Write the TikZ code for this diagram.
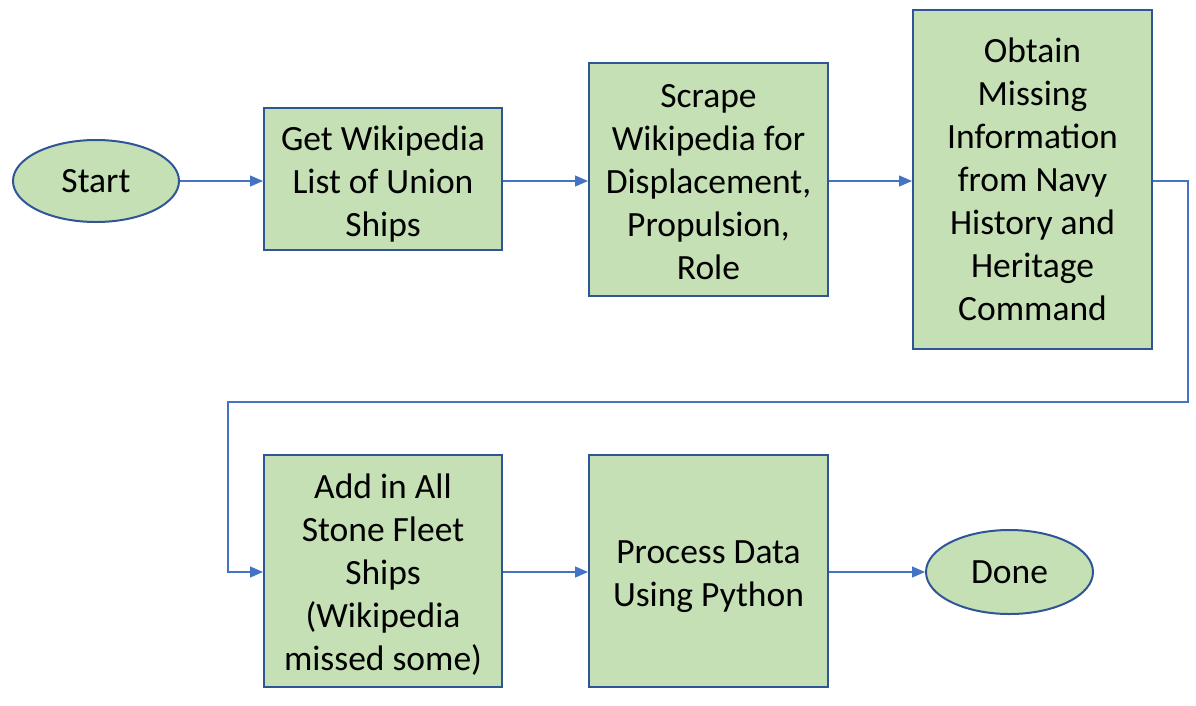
\documentclass[tikz,border=0pt]{standalone}
\usepackage{fontspec}
\setmainfont{Carlito}
\usetikzlibrary{shapes.geometric,arrows.meta}
\definecolor{boxfill}{HTML}{C5E0B4}
\definecolor{boxline}{HTML}{2F5597}
\definecolor{conn}{HTML}{4472C4}
\newcommand{\topstrut}[1]{\rule{0pt}{#1pt}}
\tikzset{
  stepbox/.style={draw=boxline, line width=2pt, fill=boxfill, inner sep=0pt, align=center,
    font=\fontsize{35.5}{43}\selectfont},
  term/.style={ellipse, draw=boxline, line width=2pt, fill=boxfill, inner sep=0pt,
    font=\fontsize{35.5}{43}\selectfont},
  link/.style={draw=conn, line width=1.3pt, -{Triangle[length=13pt,width=11pt]}}
}
\begin{document}
\begin{tikzpicture}[x=1pt,y=-1pt]
\useasboundingbox (0,0) rectangle (1196,705);
\node[term, minimum width=166pt, minimum height=82pt] (start) at (96,181) {Start};
\node[stepbox, minimum width=238pt, minimum height=142pt] (b1) at (383,179) {\topstrut{35}Get Wikipedia\\List of Union\\Ships};
\node[stepbox, minimum width=239pt, minimum height=233pt] (b2) at (708.5,179.5) {\topstrut{29}Scrape\\Wikipedia for\\Displacement,\\Propulsion,\\Role};
\node[stepbox, minimum width=239pt, minimum height=339pt] (b3) at (1032.5,179.5) {Obtain\\Missing\\Information\\from Navy\\History and\\Heritage\\Command};
\node[stepbox, minimum width=238pt, minimum height=232pt] (b4) at (383,571) {\topstrut{31}Add in All\\Stone Fleet\\Ships\\(Wikipedia\\missed some)};
\node[stepbox, minimum width=239pt, minimum height=232pt] (b5) at (708.5,571) {\topstrut{35}Process Data\\Using Python};
\node[term, minimum width=167pt, minimum height=84pt] (done) at (1009.5,572) {Done};
\draw[link] (start.east) -- (b1.west |- start.east);
\draw[link] (b1.east |- 0,181) -- (b2.west |- 0,181);
\draw[link] (b2.east |- 0,181) -- (b3.west |- 0,181);
\coordinate (c1) at (1188,181);
\coordinate (c2) at (1188,402);
\coordinate (c3) at (228,402);
\coordinate (c4) at (228,572);
\draw[link] (b3.east |- c1) -- (c1) -- (c2) -- (c3) -- (c4) -- (b4.west |- c4);
\draw[link] (b4.east |- 0,572) -- (b5.west |- 0,572);
\draw[link] (b5.east |- 0,572) -- (done.west);
\end{tikzpicture}
\end{document}
